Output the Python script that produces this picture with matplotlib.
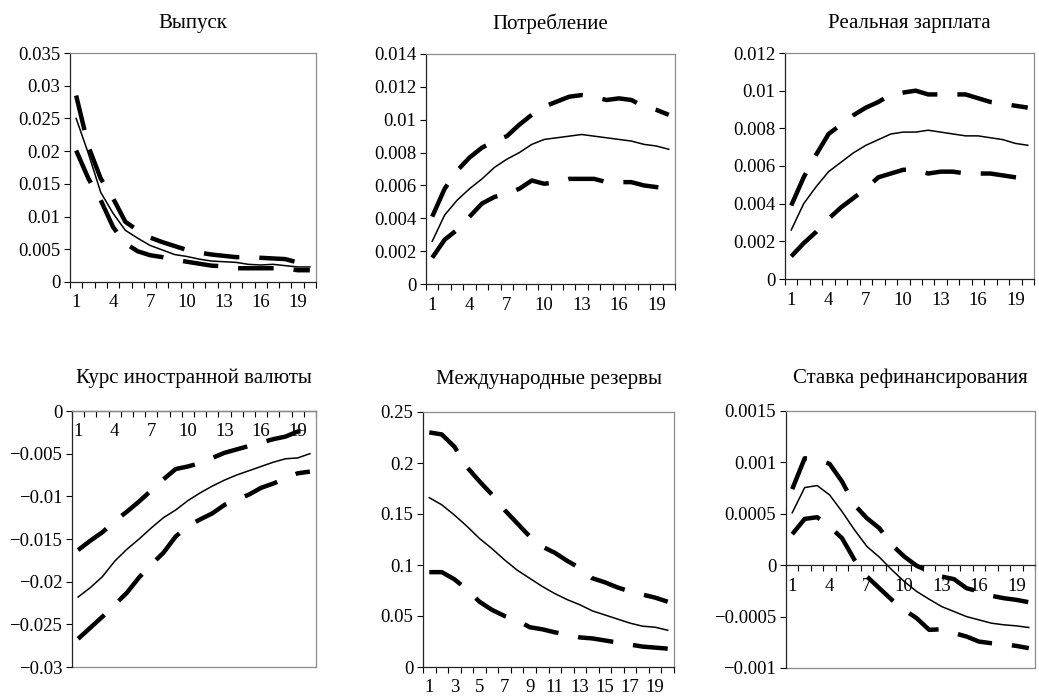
import matplotlib.pyplot as plt
import numpy as np
from matplotlib.ticker import FixedLocator, FuncFormatter, NullFormatter

plt.rcParams['font.family'] = 'Liberation Serif'
plt.rcParams['font.size'] = 13.5

# Data: impulse responses (point estimate + confidence band), 20 periods
periods = np.arange(1, 21)

titles = ["Выпуск", "Потребление", "Реальная зарплата",
          "Курс иностранной валюты", "Международные резервы", "Ставка рефинансирования"]

output_mid = [0.0250, 0.0196, 0.0137, 0.0105, 0.0079, 0.0067, 0.0056, 0.0049, 0.0042, 0.0039,
              0.0035, 0.0032, 0.0031, 0.0030, 0.0027, 0.0026, 0.0027, 0.0025, 0.0023, 0.0023]
output_hi = [0.0285, 0.0207, 0.0158, 0.0128, 0.0092, 0.0079, 0.0068, 0.0061, 0.0055, 0.0049,
             0.0045, 0.0042, 0.0040, 0.0038, 0.0038, 0.0037, 0.0036, 0.0035, 0.0030, 0.0032]
output_lo = [0.0201, 0.0158, 0.0125, 0.0084, 0.0059, 0.0047, 0.0041, 0.0038, 0.0034, 0.0031,
             0.0028, 0.0025, 0.0024, 0.0021, 0.0021, 0.0021, 0.0021, 0.0021, 0.0018, 0.0018]

cons_mid = [0.0026, 0.0042, 0.0051, 0.0058, 0.0064, 0.0071, 0.0076, 0.0080, 0.0085, 0.0088,
            0.0089, 0.0090, 0.0091, 0.0090, 0.0089, 0.0088, 0.0087, 0.0085, 0.0084, 0.0082]
cons_hi = [0.0041, 0.0058, 0.0069, 0.0077, 0.0083, 0.0087, 0.0090, 0.0097, 0.0103, 0.0108,
           0.0111, 0.0114, 0.0115, 0.0114, 0.0112, 0.0113, 0.0112, 0.0108, 0.0106, 0.0103]
cons_lo = [0.0016, 0.0027, 0.0033, 0.0041, 0.0049, 0.0053, 0.0055, 0.0058, 0.0063, 0.0061,
           0.0062, 0.0064, 0.0064, 0.0064, 0.0062, 0.0062, 0.0062, 0.0060, 0.0059, 0.0058]

wage_mid = [0.0026, 0.0040, 0.0049, 0.0057, 0.0062, 0.0067, 0.0071, 0.0074, 0.0077, 0.0078,
            0.0078, 0.0079, 0.0078, 0.0077, 0.0076, 0.0076, 0.0075, 0.0074, 0.0072, 0.0071]
wage_hi = [0.0039, 0.0054, 0.0066, 0.0077, 0.0082, 0.0087, 0.0091, 0.0094, 0.0098, 0.0099,
           0.0100, 0.0098, 0.0098, 0.0098, 0.0098, 0.0096, 0.0094, 0.0093, 0.0092, 0.0091]
wage_lo = [0.0012, 0.0019, 0.0025, 0.0032, 0.0038, 0.0043, 0.0048, 0.0054, 0.0056, 0.0058,
           0.0058, 0.0056, 0.0057, 0.0057, 0.0056, 0.0056, 0.0056, 0.0055, 0.0054, 0.0053]

fx_mid = [-0.0218, -0.0207, -0.0194, -0.0176, -0.0162, -0.0150, -0.0137, -0.0125, -0.0116, -0.0105,
          -0.0096, -0.0088, -0.0081, -0.0075, -0.0070, -0.0065, -0.0060, -0.0056, -0.0055, -0.0050]
fx_hi = [-0.0163, -0.0152, -0.0142, -0.0129, -0.0118, -0.0106, -0.0093, -0.0080, -0.0068, -0.0065,
         -0.0061, -0.0055, -0.0049, -0.0045, -0.0041, -0.0037, -0.0033, -0.0030, -0.0024, -0.0023]
fx_lo = [-0.0267, -0.0254, -0.0241, -0.0227, -0.0213, -0.0195, -0.0180, -0.0166, -0.0147, -0.0135,
         -0.0127, -0.0120, -0.0110, -0.0104, -0.0098, -0.0090, -0.0085, -0.0079, -0.0073, -0.0071]

res_mid = [0.166, 0.159, 0.149, 0.138, 0.126, 0.116, 0.105, 0.095, 0.087, 0.079,
           0.072, 0.066, 0.061, 0.055, 0.051, 0.047, 0.043, 0.040, 0.039, 0.036]
res_hi = [0.230, 0.228, 0.216, 0.196, 0.182, 0.169, 0.154, 0.141, 0.128, 0.118,
          0.112, 0.104, 0.097, 0.087, 0.083, 0.078, 0.074, 0.071, 0.068, 0.064]
res_lo = [0.093, 0.093, 0.086, 0.076, 0.064, 0.056, 0.050, 0.046, 0.039, 0.037,
          0.034, 0.032, 0.029, 0.028, 0.026, 0.024, 0.022, 0.020, 0.019, 0.018]

rate_mid = [0.00051, 0.000755, 0.000775, 0.000684, 0.000522, 0.000344, 0.000182, 0.000078, -0.000045, -0.000159,
            -0.000256, -0.000331, -0.000402, -0.000451, -0.0005, -0.000532, -0.000564, -0.00058, -0.00059, -0.000606]
rate_hi = [0.00074, 0.00104, 0.00103, 0.000986, 0.000814, 0.000587, 0.000457, 0.00036, 0.000198, 0.000084,
           -0.000006, -0.00006, -0.00011, -0.000136, -0.000224, -0.000256, -0.000298, -0.000321, -0.000337, -0.00036]
rate_lo = [0.000302, 0.00045, 0.000467, 0.000376, 0.000263, 0.000052, -0.00011, -0.000224, -0.000337, -0.000435,
           -0.000516, -0.000629, -0.000623, -0.00066, -0.000694, -0.000743, -0.000759, -0.000769, -0.000785, -0.000807]

mids = [output_mid, cons_mid, wage_mid, fx_mid, res_mid, rate_mid]
his = [output_hi, cons_hi, wage_hi, fx_hi, res_hi, rate_hi]
los = [output_lo, cons_lo, wage_lo, fx_lo, res_lo, rate_lo]

y_ranges = [(0, 0.035, 0.005), (0, 0.014, 0.002), (0, 0.012, 0.002),
            (-0.03, 0, 0.005), (0, 0.25, 0.05), (-0.001, 0.0015, 0.0005)]
label_steps = [3, 3, 3, 3, 2, 3]

# axes boxes in pixels: left, top, right, bottom
W, H = 1039, 699
boxes = [(70, 53, 316, 282), (426, 54, 675, 284), (785, 53, 1034, 279),
         (72, 411, 316, 667), (423, 412, 674, 667), (786, 411, 1035, 668)]


def fmt(v, pos):
    if abs(v) < 1e-12:
        return "0"
    return ("%g" % v).replace("-", "\u2212")


fig = plt.figure(figsize=(W / 100, H / 100), dpi=100)

for k in range(6):
    l, t, r, b = boxes[k]
    ax = fig.add_axes([l / W, 1 - b / H, (r - l) / W, (b - t) / H])
    lo_lim, hi_lim, step = y_ranges[k]

    ax.plot(periods, mids[k], color='black', lw=1.1, zorder=3)
    for band in (his[k], los[k]):
        line, = ax.plot(periods, band, color='black', lw=3.2, zorder=3,
                        solid_capstyle='butt', dash_capstyle='butt')
        line.set_dashes((8, 4.5))

    ax.set_xlim(0.5, 20.5)
    ax.set_ylim(lo_lim, hi_lim)

    yt = np.round(np.arange(lo_lim, hi_lim + step / 2, step), 6)
    ax.yaxis.set_major_locator(FixedLocator(yt))
    ax.yaxis.set_major_formatter(FuncFormatter(fmt))

    # x labels at category centres, tick marks at category boundaries
    ax.xaxis.set_major_locator(FixedLocator(periods[::label_steps[k]]))
    ax.xaxis.set_minor_locator(FixedLocator(np.arange(0.5, 21, 1)))
    ax.xaxis.set_minor_formatter(NullFormatter())
    ax.tick_params(axis='x', which='major', length=0, pad=9)
    ax.tick_params(axis='x', which='minor', direction='out', length=4, width=0.8, color='black')
    ax.tick_params(axis='y', which='major', direction='out', length=4, width=0.8, pad=3)

    for s in ('top', 'right'):
        ax.spines[s].set_color('#8c8c8c')
        ax.spines[s].set_linewidth(0.9)
    ax.spines['left'].set_color('#222222')
    ax.spines['left'].set_linewidth(0.9)
    ax.spines['bottom'].set_position(('data', 0))
    ax.spines['bottom'].set_color('#222222')
    ax.spines['bottom'].set_linewidth(0.9)
    if lo_lim < 0:
        ax.axhline(lo_lim, color='#8c8c8c', lw=0.9, clip_on=False, zorder=1)

    ax.set_title(titles[k], pad=18 if k < 3 else 20, fontsize=15)

fig.savefig('out.png', dpi=100)
